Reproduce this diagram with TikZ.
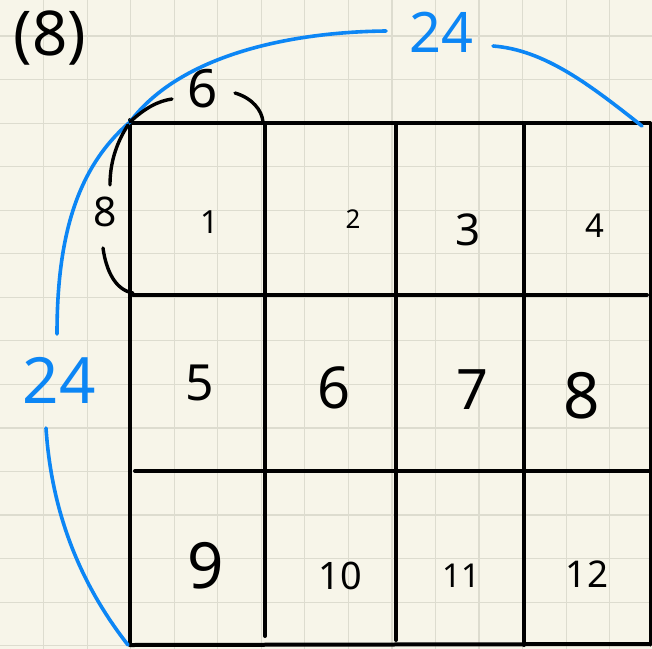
\documentclass[tikz,border=0pt]{standalone}
\usepackage{fontspec}
\setmainfont{Noto Sans}
\definecolor{paper}{RGB}{247,245,233}
\definecolor{gridc}{RGB}{221,220,207}
\definecolor{pen}{RGB}{12,134,245}
\begin{document}
\begin{tikzpicture}[x=1bp,y=-1bp,
  ink/.style={line width=4bp, line cap=round, line join=round},
  thinink/.style={line width=3.4bp, line cap=round},
  blueink/.style={line width=3.6bp, line cap=round, draw=pen},
  gridline/.style={line width=1.2bp, draw=gridc},
  num/.style={inner sep=0pt, font=\fontsize{#1}{#1}\selectfont},
  snum/.style={inner sep=0pt, font=\fontsize{#1}{#1}\selectfont\bfseries},
  bnum/.style={num=#1, text=pen}]
\useasboundingbox (0,0) rectangle (652,649);
\fill[paper] (0,0) rectangle (652,649);
% paper grid
\foreach \i in {1,...,14} \draw[gridline] (43.55*\i,0) -- (43.55*\i,649);
\foreach \j in {0,...,14} \draw[gridline] (0,36+43.55*\j) -- (652,36+43.55*\j);
% main grid of 12 cells
\draw[ink] (130,120) -- (130,645);
\draw[ink] (265,125) -- (265,636);
\draw[ink] (396,123) -- (396,640);
\draw[ink] (524,123) -- (524,645);
\draw[ink, line width=3bp] (650.5,123) -- (650.5,645);
\draw[ink] (130,123) -- (650,123);
\draw[ink] (133,295) -- (647,295);
\draw[ink] (135,471) -- (650,471);
\draw[ink] (130,645) -- (650,644);
% labels
\node[num=62] (title) at (50,38) {(8)};
\node[num=53] (six) at (203,89) {6};
\node[snum=41] (eight) at (105,212) {8};
\node[bnum=56] (topw) at (441,32) {24};
\node[bnum=64] (leftw) at (59,380) {24};
\node[snum=32] (c1) at (210,222) {1};
\node[snum=26] (c2) at (353,219) {2};
\node[num=44] (c3) at (468,230) {3};
\node[snum=33] (c4) at (595,226) {4};
\node[num=50] (c5) at (200,383) {5};
\node[num=58] (c6) at (334,388) {6};
\node[num=56] (c7) at (472,390) {7};
\node[num=64] (c8) at (582,396) {8};
\node[num=64] (c9) at (206,566) {9};
\node[snum=38] (c10) at (340,576) {10};
\node[snum=33] (c11) at (461,576) {11};
\node[snum=37] (c12) at (587,574) {12};
% arc end points
\coordinate (TL) at (130,122);
\coordinate (TR) at (642,126);
\coordinate (BL) at (128,645);
\coordinate (tA) at (386,31);
\coordinate (tB) at (493,46);
\coordinate (lA) at (57,334);
\coordinate (lB) at (46,428);
\coordinate (sA) at (172,99);
\coordinate (sB) at (235,93);
\coordinate (sC) at (263,122);
\coordinate (eA) at (128,125);
\coordinate (eB) at (110,185);
\coordinate (eC) at (103,248);
\coordinate (eD) at (133,293);
% blue dimension arcs (24)
\draw[blueink] (TL) .. controls (180,55) and (290,32) .. (tA);
\draw[blueink] (tB) .. controls (545,50) and (590,85) .. (TR);
\draw[blueink] (TL) .. controls (80,165) and (57,230) .. (lA);
\draw[blueink] (lB) .. controls (52,520) and (85,590) .. (BL);
% black dimension arcs (6 and 8)
\draw[thinink] (TL) .. controls (145,108) and (158,101) .. (sA);
\draw[thinink] (sB) .. controls (252,98) and (262,110) .. (sC);
\draw[thinink] (eA) .. controls (115,145) and (110,165) .. (eB);
\draw[thinink] (eC) .. controls (106,270) and (115,290) .. (eD);
\end{tikzpicture}
\end{document}
